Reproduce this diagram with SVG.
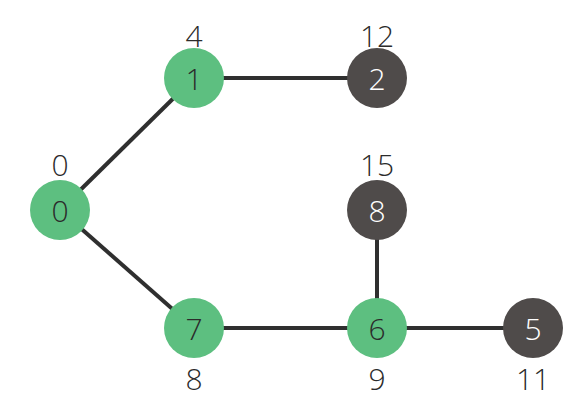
<svg xmlns="http://www.w3.org/2000/svg" width="585" height="405" viewBox="0 0 585 405">
<style>
.e{stroke:#2f2f2f;stroke-width:4;fill:none}
.g{fill:#5dbf80}
.d{fill:#4f4b4a}
text{font-family:"Open Sans","Liberation Sans",sans-serif;font-size:30px;font-weight:300;text-anchor:middle;dominant-baseline:central;fill:#2b2b2b}
.w{fill:#fff}
</style>
<rect width="585" height="405" fill="#fff"/>
<g id="edges">
<line class="e" x1="60" y1="210" x2="194" y2="78"/>
<line class="e" x1="60" y1="210" x2="194" y2="328"/>
<line class="e" x1="194" y1="78" x2="377" y2="78"/>
<line class="e" x1="194" y1="328" x2="377" y2="328"/>
<line class="e" x1="377" y1="210" x2="377" y2="328"/>
<line class="e" x1="377" y1="328" x2="533" y2="328"/>
</g>
<g id="n0"><circle class="g" cx="60" cy="210" r="30"/><text x="60" y="210">0</text><text x="60" y="164">0</text></g>
<g id="n1"><circle class="g" cx="194" cy="78" r="30"/><text x="194" y="78">1</text><text x="194" y="35">4</text></g>
<g id="n2"><circle class="d" cx="377" cy="78" r="30"/><text class="w" x="377" y="78">2</text><text x="377" y="35">12</text></g>
<g id="n8"><circle class="d" cx="377" cy="210" r="30"/><text class="w" x="377" y="210">8</text><text x="377" y="164">15</text></g>
<g id="n7"><circle class="g" cx="194" cy="328" r="30"/><text x="194" y="328">7</text><text x="194" y="378">8</text></g>
<g id="n6"><circle class="g" cx="377" cy="328" r="30"/><text x="377" y="328">6</text><text x="377" y="378">9</text></g>
<g id="n5"><circle class="d" cx="533" cy="328" r="30"/><text class="w" x="533" y="328">5</text><text x="533" y="378">11</text></g>
</svg>
